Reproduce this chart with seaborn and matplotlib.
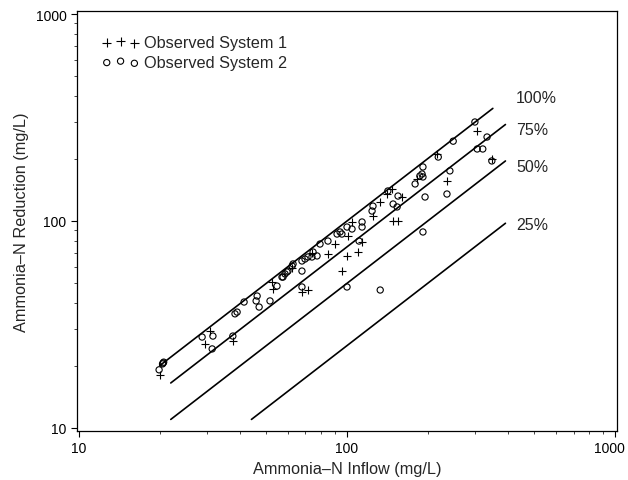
import matplotlib
matplotlib.use("Agg")
import matplotlib.pyplot as plt
import matplotlib.ticker as mticker
import matplotlib.transforms as mtransforms
import seaborn as sns
import pandas as pd

# System 1 (+ markers): inflow vs reduction, mg/L
sys1_inflow = [20.0, 29.5, 30.8, 37.5, 52.5, 53.0, 67.9, 71.5, 84.9, 90.2,
               100, 101, 104.4, 109.9, 113.8, 95.7, 125, 132.7, 141, 147,
               160, 148.6, 155, 182.5, 217, 236, 306, 347, 74.0, 62.4]
sys1_reduct = [18.0, 25.5, 29.4, 26.3, 50.7, 46.9, 45.4, 46.4, 69.3, 77.4,
               67.8, 84.7, 98.9, 70.8, 79.2, 57.3, 105.7, 123.6, 135, 142.8,
               130.6, 100, 100, 159.7, 210.7, 156, 272, 200, 70.0, 59.5]

# System 2 (o markers)
sys2_inflow = [19.9, 20.5, 20.6, 20.7, 28.8, 31.6, 31.4, 37.5, 38.9, 38.2,
               41.3, 46.2, 45.8, 47.0, 51.6, 54.8, 57.7, 58.7, 60.2, 62.4,
               62.9, 57.2, 59.7, 67.9, 69.7, 71.5, 74.7, 74.0, 77.3, 67.9,
               67.9, 79.3, 84.9, 91.8, 94.2, 95.7, 104.4, 100, 110.9, 113.8,
               113.8, 100, 124, 125, 142, 155, 148.6, 153.8, 133, 179.5,
               187, 190.5, 192, 192, 195.5, 192, 219, 242, 236, 249,
               300, 306, 321, 333, 347]
sys2_reduct = [19.1, 20.4, 20.6, 20.8, 27.5, 27.8, 24.1, 27.8, 36.3, 35.6,
               40.6, 43.4, 41.1, 38.4, 41.1, 48.5, 53.6, 55.5, 57.3, 60.6,
               62.0, 53.6, 56.7, 64.1, 65.5, 67.0, 70.8, 67.0, 67.8, 57.3,
               48.0, 77.4, 80.0, 86.5, 88.5, 86.5, 91.5, 93.5, 80.0, 98.9,
               93.5, 48.0, 111.7, 118, 139.6, 132, 120.8, 116.9, 46.4, 151,
               165, 168.7, 182.4, 163.2, 130.6, 88.5, 203.7, 174.6, 135, 243,
               300.8, 222.8, 222.8, 254.5, 195]

# reference lines: reduction = pct * inflow
line_pct = [100, 75, 50, 25]
line_x_start = [20, 22, 22, 44]
line_x_end = [350, 390, 390, 390]
label_y = [395, 278, 184, 96]

sns.set_style("ticks")
plt.rcParams["font.family"] = ["Liberation Sans", "DejaVu Sans"]

fig = plt.figure(figsize=(6.28, 4.81), dpi=100)
ax = fig.add_axes([77 / 628, 49 / 481, 540 / 628, 420 / 481])

rows = []
for p, x0, x1 in zip(line_pct, line_x_start, line_x_end):
    rows.append({"x": x0, "y": x0 * p / 100, "pct": p})
    rows.append({"x": x1, "y": x1 * p / 100, "pct": p})
lines = pd.DataFrame(rows)
for p in line_pct:
    d = lines[lines.pct == p]
    sns.lineplot(data=d, x="x", y="y", ax=ax, color="black", lw=1.2,
                 estimator=None, sort=False)

s1 = pd.DataFrame({"x": sys1_inflow, "y": sys1_reduct})
s2 = pd.DataFrame({"x": sys2_inflow, "y": sys2_reduct})
sns.scatterplot(data=s1, x="x", y="y", ax=ax, marker="+", color="black",
                s=40, linewidth=0.8, label="Observed System 1")
sns.scatterplot(data=s2, x="x", y="y", ax=ax, marker="o", facecolor="none",
                edgecolor="black", s=20, linewidth=0.8,
                label="Observed System 2")

for p, yy in zip(line_pct, label_y):
    ax.text(427, yy, f"{p}%", fontsize=11.5, va="center", ha="left")

ax.set_xscale("log")
ax.set_yscale("log")
ax.set_xlim(9.83, 1017)
ax.set_ylim(9.67, 1034)
ax.set_xticks([10, 100, 1000])
ax.set_yticks([10, 100, 1000])
ax.xaxis.set_major_formatter(mticker.FormatStrFormatter("%d"))
ax.yaxis.set_major_formatter(mticker.FormatStrFormatter("%d"))
ax.xaxis.set_minor_formatter(mticker.NullFormatter())
ax.yaxis.set_minor_formatter(mticker.NullFormatter())
ax.tick_params(which="major", direction="out", length=4, width=0.8,
               labelsize=10, colors="black")
ax.tick_params(which="minor", direction="out", length=2, width=0.6)
for sp in ax.spines.values():
    sp.set_visible(True)
    sp.set_color("black")
    sp.set_linewidth(0.9)

# nudge the "1000" label left so it stays inside the figure
last = ax.xaxis.get_major_ticks()[-1].label1
last.set_transform(last.get_transform() +
                   mtransforms.ScaledTranslation(-4 / 72, 0, fig.dpi_scale_trans))

ax.set_xlabel("Ammonia\u2013N Inflow (mg/L)", fontsize=11.7, labelpad=4)
ax.set_ylabel("Ammonia\u2013N Reduction (mg/L)", fontsize=11.7, labelpad=5)

ax.legend(loc="upper left", bbox_to_anchor=(0.025, 0.97), frameon=False,
          numpoints=3, scatterpoints=3, handlelength=2.3, handletextpad=0.3,
          labelspacing=0.3, fontsize=11.7, borderpad=0.2)

fig.savefig("out.png", dpi=100)
